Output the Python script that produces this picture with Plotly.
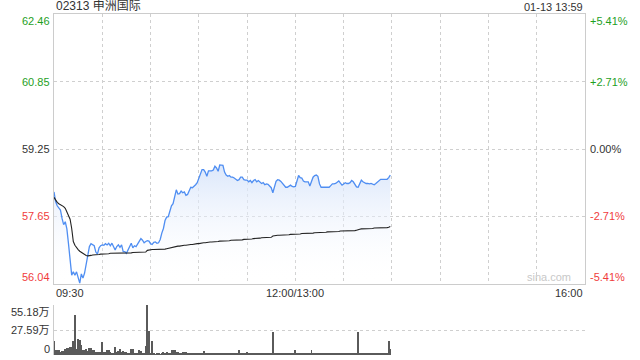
import plotly.graph_objects as go

# ---- data ----
TITLE = "02313 申洲国际"
STAMP = "01-13 13:59"
PREV_CLOSE = 59.25
PRICE_TICKS = [56.04, 57.65, 59.25, 60.85, 62.46]
PRICE_LABELS = ["56.04", "57.65", "59.25", "60.85", "62.46"]
PCT_LABELS = ["-5.41%", "-2.71%", "0.00%", "+2.71%", "+5.41%"]
VOL_TICKS = [0, 27.59, 55.18]
VOL_LABELS = ["0", "27.59万", "55.18万"]
TIME_LABELS = ["09:30", "12:00/13:00", "16:00"]
TIME_POS = [0, 150, 330]          # minutes of the session (lunch folded)
SESSION_LEN = 330

PRICE = [
    58.23, 58.00, 57.90, 57.85, 57.80, 57.60, 57.45, 57.52, 57.35, 57.00,
    56.57, 56.25, 56.33, 56.25, 56.33, 56.18, 56.06, 56.28, 56.18, 56.30,
    56.50, 56.75, 56.93, 57.00, 56.98, 56.95, 56.80, 56.75, 56.90, 56.95,
    56.97, 56.96, 57.00, 56.97, 57.01, 56.95, 57.01, 56.92, 56.85, 56.93,
    56.97, 56.91, 56.97, 56.81, 56.81, 56.77, 56.85, 56.95, 57.01, 56.90,
    56.95, 56.93, 56.99, 57.07, 57.12, 57.08, 57.02, 57.05, 57.07, 57.06,
    57.00, 56.98, 57.03, 57.04, 57.01, 57.02, 57.10, 57.25, 57.36, 57.55,
    57.63, 57.64, 57.78, 57.90, 57.95, 58.15, 58.28, 58.18, 58.19, 58.25,
    58.21, 58.23, 58.15, 58.17, 58.28, 58.34, 58.33, 58.36, 58.40, 58.45,
    58.55, 58.69, 58.76, 58.76, 58.70, 58.60, 58.73, 58.73, 58.73, 58.75,
    58.84, 58.80, 58.72, 58.87, 58.86, 58.86, 58.70, 58.63, 58.60, 58.62,
    58.58, 58.58, 58.56, 58.52, 58.50, 58.52, 58.58, 58.58, 58.52, 58.51,
    58.51, 58.47, 58.50, 58.45, 58.50, 58.52, 58.47, 58.50, 58.47, 58.43,
    58.45, 58.40, 58.42, 58.41, 58.37, 58.33, 58.21, 58.36, 58.48, 58.52,
    58.51, 58.48, 58.44, 58.38, 58.34, 58.34, 58.36, 58.39, 58.36, 58.35,
    58.36, 58.52, 58.62, 58.57, 58.56, 58.49, 58.47, 58.47, 58.47, 58.37,
    58.50, 58.58, 58.62, 58.63, 58.60, 58.42, 58.34, 58.34, 58.34, 58.34,
    58.34, 58.34, 58.38, 58.42, 58.42, 58.43, 58.46, 58.49, 58.44, 58.39,
    58.42, 58.45, 58.43, 58.43, 58.45, 58.50, 58.47, 58.42, 58.35, 58.34,
    58.41, 58.51, 58.47, 58.45, 58.43, 58.43, 58.42, 58.43, 58.41, 58.40,
    58.43, 58.47, 58.51, 58.53, 58.53, 58.53, 58.54, 58.53, 58.57, 58.63,
]

AVG = [
    58.10, 58.02, 57.98, 57.95, 57.93, 57.90, 57.88, 57.84, 57.76, 57.68,
    57.58, 57.36, 57.05, 56.96, 56.90, 56.86, 56.82, 56.79, 56.76, 56.74,
    56.72, 56.71, 56.71, 56.72, 56.73, 56.73, 56.74, 56.74, 56.74, 56.75,
    56.75, 56.75, 56.76, 56.76, 56.76, 56.77, 56.77, 56.77, 56.78, 56.78,
    56.78, 56.78, 56.78, 56.78, 56.78, 56.78, 56.78, 56.78, 56.78, 56.79,
    56.79, 56.79, 56.79, 56.79, 56.79, 56.79, 56.80, 56.80, 56.84, 56.85,
    56.85, 56.86, 56.86, 56.86, 56.86, 56.86, 56.86, 56.86, 56.87, 56.87,
    56.88, 56.89, 56.89, 56.90, 56.91, 56.92, 56.93, 56.94, 56.94, 56.95,
    56.95, 56.96, 56.96, 56.97, 56.97, 56.98, 56.98, 56.99, 56.99, 57.00,
    57.00, 57.01, 57.01, 57.02, 57.02, 57.03, 57.03, 57.04, 57.04, 57.04,
    57.05, 57.05, 57.05, 57.06, 57.06, 57.06, 57.07, 57.07, 57.07, 57.07,
    57.08, 57.08, 57.08, 57.08, 57.09, 57.09, 57.09, 57.09, 57.10, 57.10,
    57.10, 57.11, 57.11, 57.11, 57.12, 57.12, 57.13, 57.13, 57.13, 57.14,
    57.14, 57.14, 57.14, 57.15, 57.15, 57.15, 57.18, 57.19, 57.19, 57.20,
    57.20, 57.20, 57.20, 57.21, 57.21, 57.21, 57.21, 57.22, 57.22, 57.22,
    57.23, 57.23, 57.23, 57.23, 57.24, 57.24, 57.24, 57.24, 57.25, 57.25,
    57.25, 57.25, 57.26, 57.26, 57.26, 57.26, 57.27, 57.27, 57.27, 57.27,
    57.28, 57.28, 57.28, 57.28, 57.29, 57.29, 57.29, 57.29, 57.30, 57.30,
    57.30, 57.30, 57.30, 57.31, 57.31, 57.31, 57.31, 57.31, 57.32, 57.34,
    57.34, 57.35, 57.35, 57.35, 57.35, 57.36, 57.36, 57.36, 57.36, 57.37,
    57.37, 57.37, 57.37, 57.38, 57.38, 57.38, 57.38, 57.38, 57.39, 57.41,
]

VOLUME = [  # 万股
    14.9, 5.8, 5.8, 5.1, 3.3, 4.0, 4.7, 6.9, 7.6, 7.6,
    8.3, 8.3, 14.9, 43.9, 6.5, 17.4, 16.7, 11.3, 5.8, 5.8,
    6.5, 4.7, 8.0, 8.0, 5.1, 5.8, 3.3, 2.9, 2.9, 3.3,
    14.5, 2.9, 2.9, 5.1, 5.8, 3.6, 2.2, 2.2, 8.7, 3.6,
    4.7, 6.5, 2.9, 4.0, 2.9, 2.9, 2.2, 1.5, 6.5, 6.5,
    1.5, 1.5, 1.2, 5.1, 4.0, 1.5, 1.1, 10.2, 55.18, 26.9,
    1.5, 14.9, 1.2, 1.0, 1.3, 1.1, 1.0, 1.5, 2.9, 2.2,
    2.9, 2.2, 1.5, 5.8, 5.1, 5.1, 3.3, 3.3, 2.2, 2.2,
    3.3, 3.3, 2.9, 1.8, 2.2, 1.5, 1.8, 1.5, 2.2, 1.5,
    1.8, 2.2, 1.5, 4.4, 1.8, 1.5, 1.1, 1.8, 2.2, 1.5,
    1.8, 2.2, 1.5, 1.1, 1.8, 1.5, 1.5, 1.1, 1.8, 1.5,
    1.5, 1.1, 1.5, 1.8, 1.5, 5.1, 1.5, 1.1, 1.5, 1.8,
    3.3, 1.5, 1.1, 1.5, 1.5, 1.1, 1.5, 1.8, 1.5, 1.1,
    1.5, 1.1, 1.5, 1.8, 1.5, 1.8, 25.4, 1.8, 1.5, 1.1,
    1.5, 1.1, 1.5, 1.1, 1.8, 1.5, 1.1, 1.5, 1.8, 1.5,
    5.8, 2.2, 1.5, 1.8, 1.5, 1.1, 1.5, 1.8, 1.5, 2.2,
    5.8, 2.2, 1.5, 1.1, 1.5, 1.8, 1.5, 1.1, 1.5, 1.1,
    1.5, 1.1, 1.5, 1.8, 1.5, 1.1, 1.8, 1.5, 1.1, 1.5,
    1.8, 1.1, 1.5, 1.5, 1.1, 1.5, 1.8, 1.5, 1.1, 25.4,
    1.8, 1.5, 1.1, 1.5, 1.1, 1.5, 1.1, 1.5, 1.8, 1.1,
    1.5, 1.1, 1.5, 1.1, 1.5, 1.8, 1.1, 1.5, 16.0, 6.9,
]

MINUTES = list(range(len(PRICE)))

# ---- styles ----
FONT = "Liberation Sans, Arial, Noto Sans CJK SC, sans-serif"
UP = "#1ea01e"
DOWN = "#f03c3c"
FLAT = "#333333"
GRID = "#cfcfcf"
BORDER = "#cccccc"
LINE_BLUE = "#4f8ef2"

P_DOM = [0.2082, 1.0]
V_DOM = [0.0, 0.1466]

fig = go.Figure()

fig.add_trace(go.Scatter(
    x=MINUTES, y=PRICE, mode="lines", fill="tozeroy",
    line=dict(color=LINE_BLUE, width=1.3),
    fillgradient=dict(type="vertical",
                      colorscale=[[0, "rgba(255,255,255,0)"], [1, "rgba(215,228,250,0.9)"]],
                      start=PRICE_TICKS[0], stop=max(PRICE)),
    xaxis="x", yaxis="y", hoverinfo="skip", showlegend=False))

fig.add_trace(go.Scatter(
    x=MINUTES, y=AVG, mode="lines",
    line=dict(color="#222222", width=1.1),
    xaxis="x", yaxis="y", hoverinfo="skip", showlegend=False))

fig.add_trace(go.Bar(
    x=MINUTES, y=VOLUME, width=0.55, marker=dict(color="#5a5a5a", line=dict(width=0)),
    xaxis="x2", yaxis="y2", hoverinfo="skip", showlegend=False))

fig.update_layout(
    width=640, height=360, autosize=False,
    margin=dict(l=54, r=55, t=14, b=5),
    paper_bgcolor="white", plot_bgcolor="white",
    font=dict(family=FONT, size=11, color=FLAT),
    bargap=0,
    xaxis=dict(domain=[0, 1], range=[0, SESSION_LEN], anchor="y",
               tickvals=list(range(0, SESSION_LEN + 1, 30)), showticklabels=False, ticks="",
               showgrid=True, gridcolor=GRID, griddash="dot", gridwidth=1,
               showline=True, mirror=True, linecolor=BORDER, linewidth=1, zeroline=False),
    yaxis=dict(domain=P_DOM, range=[PRICE_TICKS[0], PRICE_TICKS[-1]], anchor="x",
               tickvals=PRICE_TICKS, showticklabels=False, ticks="",
               showgrid=True, gridcolor=GRID, griddash="dot", gridwidth=1,
               showline=True, mirror=True, linecolor=BORDER, linewidth=1, zeroline=False),
    xaxis2=dict(domain=[0, 1], range=[0, SESSION_LEN], anchor="y2",
                showticklabels=False, ticks="", showgrid=False, showline=False, zeroline=False),
    yaxis2=dict(domain=V_DOM, range=[VOL_TICKS[0], VOL_TICKS[-1]], anchor="x2",
                tickvals=VOL_TICKS, showticklabels=False, ticks="",
                showgrid=True, gridcolor=GRID, griddash="dot", gridwidth=1,
                showline=True, linecolor=BORDER, linewidth=1, zeroline=False),
)

ann = []
ann.append(dict(text=TITLE, xref="paper", yref="paper", x=0, y=1, xanchor="left", yanchor="bottom",
                showarrow=False, font=dict(size=12, color=FLAT), xshift=0, yshift=-1))
ann.append(dict(text=STAMP, xref="paper", yref="paper", x=1, y=1, xanchor="right", yanchor="bottom",
                showarrow=False, font=dict(size=11, color=FLAT), yshift=-1))

n = len(PRICE_TICKS)
for i, (v, lab, pct) in enumerate(zip(PRICE_TICKS, PRICE_LABELS, PCT_LABELS)):
    col = UP if v > PREV_CLOSE + 1e-9 else (DOWN if v < PREV_CLOSE - 1e-9 else FLAT)
    ys = 7 if i == 0 else (-7 if i == n - 1 else 0)
    ann.append(dict(text=lab, xref="paper", yref="y", x=0, y=v, xanchor="right", yanchor="middle",
                    showarrow=False, font=dict(size=11, color=col), xshift=-2, yshift=ys))
    ann.append(dict(text=pct, xref="paper", yref="y", x=1, y=v, xanchor="left", yanchor="middle",
                    showarrow=False, font=dict(size=11, color=col), xshift=3, yshift=ys))

anchors = ["left", "center", "right"]
for pos, lab, xa in zip(TIME_POS, TIME_LABELS, anchors):
    ann.append(dict(text=lab, xref="x", yref="paper", x=pos, y=P_DOM[0], xanchor=xa, yanchor="top",
                    showarrow=False, font=dict(size=11, color=FLAT), yshift=-1))

ann.append(dict(text="sina.com", xref="x", yref="y", x=SESSION_LEN, y=PRICE_TICKS[0],
                xanchor="right", yanchor="bottom", showarrow=False,
                font=dict(size=11, color="#c8c8c8"), xshift=-12, yshift=-1))

for i, (v, lab) in enumerate(zip(VOL_TICKS, VOL_LABELS)):
    ys = 6 if i == 0 else (-7 if i == len(VOL_TICKS) - 1 else 0)
    ann.append(dict(text=lab, xref="paper", yref="y2", x=0, y=v, xanchor="right", yanchor="middle",
                    showarrow=False, font=dict(size=11, color=FLAT), xshift=-2, yshift=ys))

fig.update_layout(annotations=ann)

fig.write_html("out.html")
